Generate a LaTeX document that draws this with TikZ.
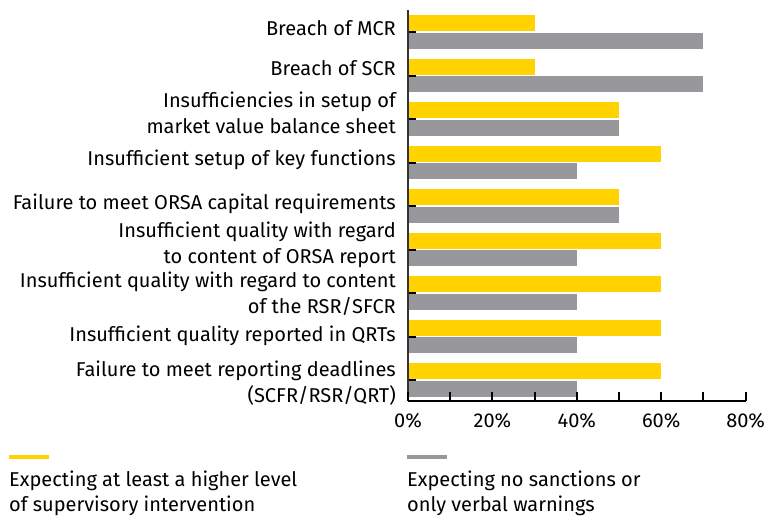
\documentclass[tikz,border=0pt]{standalone}
\usepackage{fontspec}
\setmainfont{Fira Sans}
\definecolor{eyyellow}{HTML}{FFD200}
\definecolor{eygray}{HTML}{97979C}

\begin{document}
\begin{tikzpicture}[x=1pt,y=-1pt,
    catlabel/.style={anchor=base east,align=right,inner sep=0pt,
      font=\fontsize{20}{26}\selectfont},
    ticklabel/.style={anchor=base,inner sep=0pt,font=\fontsize{20}{23}\selectfont},
    legendlabel/.style={anchor=base west,align=left,inner sep=0pt,
      font=\fontsize{20}{25}\selectfont}]
      \useasboundingbox (0,0) rectangle (765,515) ;
      % bars: yellow / gray per category
      \foreach \yel/\gry [count=\i from 0] in
        {30/70,30/70,50/50,60/40,50/50,60/40,60/40,60/40,60/40} {
        \fill[eyyellow] (408,15+43.5*\i) rectangle (408+4.22*\yel,31+43.5*\i) ;
        \fill[eygray] (408,32.5+43.5*\i) rectangle (408+4.22*\gry,48.5+43.5*\i) ;
        \draw[black,line width=2pt] (408,32+43.5*\i)--(416,32+43.5*\i) ;
      }
      % axes
      \coordinate (top) at (408,10) ;
      \coordinate (O) at (408,401) ;
      \coordinate (end) at (746,401) ;
      \draw[black!80,line width=1.5pt] (top)--(O) ;
      \draw[black,line width=2.5pt] (O)--(end) ;
      \foreach \k in {0,...,8}
        \draw[black,line width=2pt] (408+42.2*\k,401)--(408+42.2*\k,392) ;
      \foreach \k in {0,20,40,60,80}
        \node[ticklabel] (t\k) at (408+4.22*\k,427) {\k\%} ;
      % category labels (base = last line)
      \node[catlabel] (mcr) at (396,35) {Breach of MCR} ;
      \node[catlabel] (scr) at (396,75) {Breach of SCR} ;
      \node[catlabel] (mvbs) at (396,133) {Insufficiencies in setup of\\market value balance sheet} ;
      \node[catlabel] (keyf) at (396,165) {Insufficient setup of key functions} ;
      \node[catlabel] (orsacap) at (396,209) {Failure to meet ORSA capital requirements} ;
      \node[catlabel] (orsarep) at (396,263) {Insufficient quality with regard\\to content of ORSA report} ;
      \node[catlabel] (rsr) at (396,313) {Insufficient quality with regard to content\\of the RSR/SFCR} ;
      \node[catlabel] (qrt) at (396,341) {Insufficient quality reported in QRTs} ;
      \node[catlabel] (dead) at (396,402) {Failure to meet reporting deadlines\\(SCFR/RSR/QRT)} ;
      % legend
      \coordinate (ly1) at (9,457) ;
      \coordinate (ly2) at (49,457) ;
      \coordinate (lg1) at (407,457) ;
      \coordinate (lg2) at (447,457) ;
      \draw[eyyellow,line width=4pt] (ly1)--(ly2) ;
      \draw[eygray,line width=4pt] (lg1)--(lg2) ;
      \node[legendlabel] (higher) at (9,511) {Expecting at least a higher level\\of supervisory intervention} ;
      \node[legendlabel] (nosanc) at (407,511) {Expecting no sanctions or\\only verbal warnings} ;
    \end{tikzpicture}
\end{document}
